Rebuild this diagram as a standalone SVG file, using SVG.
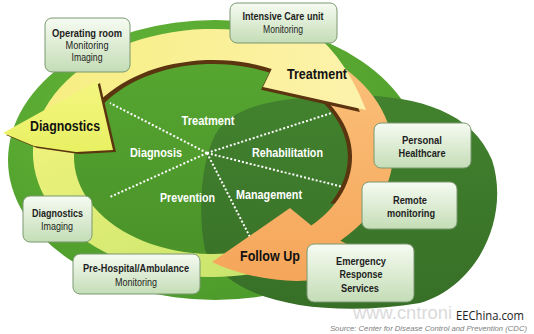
<svg xmlns="http://www.w3.org/2000/svg" width="534" height="334" viewBox="0 0 534 334">
<defs>
<radialGradient id="gBig" cx="0.4" cy="0.3" r="0.75"><stop offset="0" stop-color="#66b83a"/><stop offset="1" stop-color="#4c9a2a"/></radialGradient>
<linearGradient id="gPie" x1="0" y1="0" x2="0" y2="1"><stop offset="0" stop-color="#56a631"/><stop offset="1" stop-color="#4a9229"/></linearGradient>
<linearGradient id="gDark" x1="0" y1="0" x2="0" y2="1"><stop offset="0" stop-color="#42822e"/><stop offset="1" stop-color="#376f27"/></linearGradient>
<linearGradient id="gYellow" x1="0" y1="0" x2="1" y2="0"><stop offset="0" stop-color="#f6ee80"/><stop offset="1" stop-color="#fdf2ac"/></linearGradient>
<linearGradient id="gOrange" x1="0" y1="0" x2="0" y2="1"><stop offset="0" stop-color="#fbc27c"/><stop offset="1" stop-color="#f5a65a"/></linearGradient>
<linearGradient id="gLime" x1="1" y1="1" x2="0" y2="0"><stop offset="0" stop-color="#c6e46c"/><stop offset="1" stop-color="#eef27c"/></linearGradient>
<linearGradient id="gHeadD" x1="0" y1="0" x2="0" y2="1"><stop offset="0" stop-color="#f4f680"/><stop offset="1" stop-color="#e8f062"/></linearGradient>
<linearGradient id="gBox" x1="0" y1="0" x2="0" y2="1"><stop offset="0" stop-color="#f6fbf2"/><stop offset="1" stop-color="#c4ddb6"/></linearGradient>
<clipPath id="cTop"><rect x="0" y="0" width="534" height="205"/></clipPath>
<path id="pYellow" d="M33.4,144.3 A180 124 0 0 1 289.1,40.6 L299,23 Q342,48 366,110 L263,87 L271.7,69.1 A139 97 0 0 0 74.3,150.2 Z"/>
<path id="pOrange" d="M303,45.6 A180 124 0 0 1 340.3,240.7 L368,254 C340,292 260,285 212,262 L290,208 L311.3,225.6 A139 97 0 0 0 282.5,73 Z"/>
<path id="pHeadD" d="M97,81 L3,133 L34,146 L76,152 L113,150 Z"/>
</defs>
<style>
.box{fill:url(#gBox);stroke:#7a9870;stroke-width:1}
.bt{font-family:"Liberation Sans",Arial,sans-serif;font-size:11px;fill:#1e1e1e;text-anchor:middle}
.b{font-weight:bold}
.pie{font-family:"Liberation Sans",Arial,sans-serif;font-size:12px;font-weight:bold;fill:#ffffff;text-anchor:middle}
.arr{font-family:"Liberation Sans",Arial,sans-serif;font-size:14px;font-weight:bold;fill:#111111;text-anchor:middle}
.dot{stroke:#ffffff;stroke-width:2;stroke-dasharray:2 2;fill:none}
.shadow{fill:#5a3510}
</style>
<rect x="0" y="0" width="534" height="334" fill="#ffffff"/>

<g id="background">
<ellipse cx="215" cy="160" rx="207" ry="140" fill="url(#gBig)"/>
<ellipse cx="213" cy="157" rx="139" ry="97" fill="url(#gPie)"/>
<path d="M205,250 C198,215 200,165 215,135 C228,112 260,99 320,97 C400,90 470,105 492,160 C510,215 480,285 420,303 C330,318 230,305 205,250 Z" fill="url(#gDark)"/>
</g>

<g id="connectors">
<line class="dot" x1="207" y1="153" x2="110" y2="103"/>
<line class="dot" x1="207" y1="153" x2="110" y2="197"/>
<line class="dot" x1="207" y1="153" x2="341" y2="110"/>
<line class="dot" x1="207" y1="153" x2="347" y2="188"/>
<line class="dot" x1="207" y1="153" x2="250" y2="237"/>
</g>

<g id="pie-labels">
<text class="pie" x="208" y="125" textLength="53" lengthAdjust="spacingAndGlyphs">Treatment</text>
<text class="pie" x="156" y="157" textLength="52" lengthAdjust="spacingAndGlyphs">Diagnosis</text>
<text class="pie" x="287.5" y="157" textLength="71" lengthAdjust="spacingAndGlyphs">Rehabilitation</text>
<text class="pie" x="187.5" y="202" textLength="55" lengthAdjust="spacingAndGlyphs">Prevention</text>
<text class="pie" x="269" y="199" textLength="66" lengthAdjust="spacingAndGlyphs">Management</text>
</g>

<g id="arrow-followup-lime">
<path d="M274.6,269.5 A180 124 0 0 1 33.4,144.3 L74.3,150.2 A139 97 0 0 0 260.5,248.2 Z" fill="url(#gLime)"/>
</g>
<g id="arrow-followup">
<use href="#pOrange" class="shadow" clip-path="url(#cTop)" transform="matrix(0.97 0 0 0.97 6.39 4.71)"/>
<use href="#pOrange" fill="url(#gOrange)"/>
<text class="arr" x="270" y="261" textLength="60" lengthAdjust="spacingAndGlyphs">Follow Up</text>
</g>
<g id="arrow-treatment">
<use href="#pYellow" class="shadow" transform="matrix(0.96 0 0 0.96 8.52 6.28)"/>
<use href="#pYellow" fill="url(#gYellow)"/>
<text class="arr" x="317" y="79" textLength="60" lengthAdjust="spacingAndGlyphs">Treatment</text>
</g>
<g id="arrow-diagnostics">
<use href="#pHeadD" class="shadow" transform="translate(3 2)"/>
<use href="#pHeadD" fill="url(#gHeadD)"/>
<text class="arr" x="65" y="131" textLength="70" lengthAdjust="spacingAndGlyphs">Diagnostics</text>
</g>

<g id="box-operating-room">
<rect class="box" x="45" y="18" width="85" height="54" rx="7"/>
<text class="bt b" x="87" y="36.5" textLength="70" lengthAdjust="spacingAndGlyphs">Operating room</text>
<text class="bt" x="87" y="48.5" textLength="43" lengthAdjust="spacingAndGlyphs">Monitoring</text>
<text class="bt" x="87" y="60.5" textLength="31" lengthAdjust="spacingAndGlyphs">Imaging</text>
</g>
<g id="box-icu">
<rect class="box" x="230" y="3" width="107" height="40" rx="7"/>
<text class="bt b" x="283" y="20" textLength="81" lengthAdjust="spacingAndGlyphs">Intensive Care unit</text>
<text class="bt" x="283" y="32.5" textLength="40" lengthAdjust="spacingAndGlyphs">Monitoring</text>
</g>
<g id="box-personal">
<rect class="box" x="374" y="123" width="97" height="45" rx="7"/>
<text class="bt b" x="422" y="144" textLength="40" lengthAdjust="spacingAndGlyphs">Personal</text>
<text class="bt b" x="422" y="157" textLength="47" lengthAdjust="spacingAndGlyphs">Healthcare</text>
</g>
<g id="box-remote">
<rect class="box" x="362" y="182" width="95" height="47" rx="7"/>
<text class="bt b" x="410" y="204" textLength="34" lengthAdjust="spacingAndGlyphs">Remote</text>
<text class="bt b" x="411" y="217" textLength="48" lengthAdjust="spacingAndGlyphs">monitoring</text>
</g>
<g id="box-emergency">
<rect class="box" x="307" y="244" width="107" height="58" rx="7"/>
<text class="bt b" x="361" y="264.5" textLength="50" lengthAdjust="spacingAndGlyphs">Emergency</text>
<text class="bt b" x="361" y="278" textLength="43" lengthAdjust="spacingAndGlyphs">Response</text>
<text class="bt b" x="360" y="292" textLength="38" lengthAdjust="spacingAndGlyphs">Services</text>
</g>
<g id="box-prehospital">
<rect class="box" x="73" y="254" width="127" height="40" rx="7"/>
<text class="bt b" x="136" y="272" textLength="106" lengthAdjust="spacingAndGlyphs">Pre-Hospital/Ambulance</text>
<text class="bt" x="136" y="285.5" textLength="42" lengthAdjust="spacingAndGlyphs">Monitoring</text>
</g>
<g id="box-diagnostics-imaging">
<rect class="box" x="23" y="196" width="69" height="46" rx="7"/>
<text class="bt b" x="57.5" y="217" textLength="51" lengthAdjust="spacingAndGlyphs">Diagnostics</text>
<text class="bt" x="57" y="229.5" textLength="32" lengthAdjust="spacingAndGlyphs">Imaging</text>
</g>

<g id="footer">
<text x="353" y="319" font-family="Liberation Sans, Arial, sans-serif" font-size="19" fill="#dadada" textLength="99" lengthAdjust="spacingAndGlyphs">www.cntroni</text>
<text x="330" y="331" font-family="Liberation Sans, Arial, sans-serif" font-size="8" font-style="italic" fill="#808080" textLength="197" lengthAdjust="spacingAndGlyphs">Source: Center for Disease Control and Prevention (CDC)</text>
<text x="456" y="320" font-family="Open Sans, Liberation Sans, sans-serif" font-size="12" fill="#222222" textLength="68" lengthAdjust="spacingAndGlyphs">EEChina.com</text>
</g>
</svg>
